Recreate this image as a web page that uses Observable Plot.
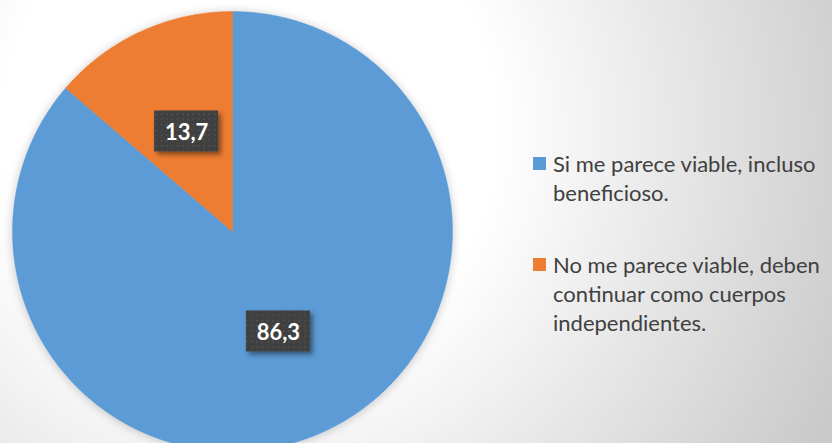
<!DOCTYPE html>
<html><head><meta charset="utf-8">
<script src="https://cdn.jsdelivr.net/npm/d3@7"></script>
<script src="https://cdn.jsdelivr.net/npm/@observablehq/plot@0.6"></script>
<style>
html,body{margin:0;padding:0;width:832px;height:443px;overflow:hidden;}
body{position:relative;background:radial-gradient(circle 650px at 250px 130px,#ffffff 38%,#c9c9c9 100%);font-family:Lato,"Open Sans",sans-serif;}
#chart{position:absolute;left:0;top:0;}
#chart svg{background:transparent;overflow:hidden;}
.legend{position:absolute;left:533px;top:149px;color:#404040;font-size:22px;line-height:29px;}
.item{position:relative;padding-left:20px;margin-bottom:43px;}
.sw{position:absolute;left:0;top:8px;width:13px;height:13px;}
</style></head>
<body>
<div id="chart"></div>
<div class="legend" id="legend"></div>
<script>
const categories = ["Si me parece viable, incluso beneficioso.", "No me parece viable, deben continuar como cuerpos independientes."];
const legendLines = [["Si me parece viable, incluso", "beneficioso."], ["No me parece viable, deben", "continuar como cuerpos", "independientes."]];
const values = [86.3, 13.7];
const valueLabels = ["86,3", "13,7"];
const colors = ["#5B9BD5", "#ED7D31"];

const total = d3.sum(values);
const slices = [];
const lab = [];
let acc = 0;
values.forEach((v, i) => {
  const a0 = acc / total * 2 * Math.PI;
  acc += v;
  const a1 = acc / total * 2 * Math.PI;
  const n = Math.max(4, Math.ceil((a1 - a0) / (Math.PI / 360)));
  const pts = [{x: 0, y: 0}];
  for (let j = 0; j <= n; j++) {
    const a = a0 + (a1 - a0) * j / n;
    pts.push({x: Math.sin(a), y: Math.cos(a)});
  }
  pts.push({x: 0, y: 0});
  slices.push(pts);
  const am = (a0 + a1) / 2;
  lab.push({label: valueLabels[i], x: 0.5 * Math.sin(am), y: 0.5 * Math.cos(am)});
});

const R = 220; // px radius
const bw = 32 / R, bh = 20.5 / R;

const plot = Plot.plot({
  width: 832,
  height: 443,
  x: {domain: [-1, 1], range: [12, 12 + 2 * R], axis: null},
  y: {domain: [-1, 1], range: [231 + R, 231 - R], axis: null},
  style: {background: "transparent", overflow: "hidden"},
  marks: [
    ...slices.map((pts, i) => Plot.line(pts, {x: "x", y: "y", fill: colors[i], stroke: colors[i], strokeWidth: 0.5})),
    Plot.rect(lab, {x1: d => d.x - bw, x2: d => d.x + bw, y1: d => d.y - bh, y2: d => d.y + bh, fill: "#404040"}),
    Plot.text(lab, {x: "x", y: "y", text: "label", fill: "white", fontSize: 22, fontWeight: "bold", fontFamily: "Lato, 'Open Sans', sans-serif", dy: 1})
  ]
});

const svg = d3.select(plot);
const defs = svg.insert("defs", ":first-child");
const pat = defs.append("pattern").attr("id", "dots").attr("patternUnits", "userSpaceOnUse").attr("width", 5.3).attr("height", 5.3);
pat.append("rect").attr("width", 5.3).attr("height", 5.3).attr("fill", "#404040");
pat.append("rect").attr("x", 2).attr("y", 2).attr("width", 1.5).attr("height", 1.5).attr("fill", "#545454");
const f1 = defs.append("filter").attr("id", "boxShadow").attr("x", "-30%").attr("y", "-30%").attr("width", "160%").attr("height", "160%");
f1.append("feDropShadow").attr("dx", 3).attr("dy", 3).attr("stdDeviation", 2.5).attr("flood-color", "#000").attr("flood-opacity", 0.45);
const f2 = defs.append("filter").attr("id", "pieShadow").attr("x", "-10%").attr("y", "-10%").attr("width", "120%").attr("height", "120%");
f2.append("feDropShadow").attr("dx", 0).attr("dy", 1).attr("stdDeviation", 5).attr("flood-color", "#000").attr("flood-opacity", 0.22);
svg.selectAll('g[aria-label="rect"]').attr("filter", "url(#boxShadow)").selectAll("rect").attr("fill", "url(#dots)");
const lineGroups = svg.selectAll('g[aria-label="line"]').nodes();
if (lineGroups.length) {
  const wrap = svg.insert("g", () => lineGroups[0]).attr("filter", "url(#pieShadow)");
  lineGroups.forEach(n => wrap.node().appendChild(n));
}

document.getElementById("chart").appendChild(plot);

const leg = d3.select("#legend");
legendLines.forEach((lines, i) => {
  const it = leg.append("div").attr("class", "item");
  it.append("div").attr("class", "sw").style("background", colors[i]);
  it.append("div").html(lines.join("<br>"));
});
</script>
</body></html>
